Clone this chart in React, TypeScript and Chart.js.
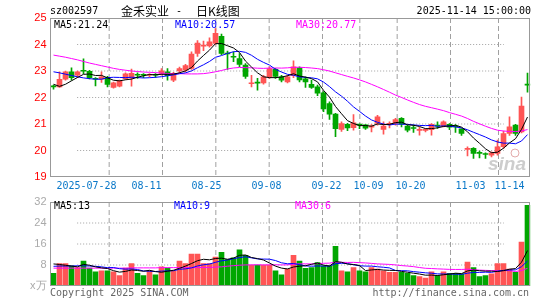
import React, { useEffect, useRef } from 'react';
import { Chart, registerables } from 'chart.js';

Chart.register(...registerables);

// ---------- data ----------
const dates = [
  '07-18', '07-21', '07-22', '07-23', '07-24', '07-25', '07-28', '07-29', '07-30', '07-31',
  '08-01', '08-04', '08-05', '08-06', '08-07', '08-08', '08-11', '08-12', '08-13', '08-14',
  '08-15', '08-18', '08-19', '08-20', '08-21', '08-22', '08-25', '08-26', '08-27', '08-28',
  '08-29', '09-01', '09-02', '09-03', '09-04', '09-05', '09-08', '09-09', '09-10', '09-11',
  '09-12', '09-15', '09-16', '09-17', '09-18', '09-19', '09-22', '09-23', '09-24', '09-25',
  '09-26', '09-29', '09-30', '10-09', '10-10', '10-13', '10-14', '10-15', '10-16', '10-17',
  '10-20', '10-21', '10-22', '10-23', '10-24', '10-27', '10-28', '10-29', '10-30', '10-31',
  '11-03', '11-04', '11-05', '11-06', '11-07', '11-10', '11-11', '11-12', '11-13', '11-14',
];

const opens = [
  22.41, 22.40, 22.69, 22.97, 22.84, 23.00, 22.99, 22.70, 22.69, 22.75,
  22.38, 22.43, 22.71, 22.74, 22.85, 22.85, 22.84, 22.85, 22.91, 22.97,
  22.65, 23.00, 23.03, 23.10, 23.66, 23.94, 23.95, 24.04, 24.31, 23.68,
  23.55, 23.47, 23.22, 22.52, 22.56, 22.55, 22.78, 23.06, 22.78, 22.59,
  22.82, 23.12, 22.70, 22.50, 22.40, 22.18, 21.77, 21.37, 20.80, 20.99,
  20.86, 20.97, 20.97, 20.88, 21.02, 20.80, 20.99, 21.02, 21.21, 20.92,
  20.84, 20.76, 20.76, 20.79, 20.93, 20.92, 20.99, 20.90, 20.82, 20.04,
  20.08, 19.90, 19.86, 19.82, 19.89, 20.14, 20.64, 20.96, 20.70, 22.48,
];

const closes = [
  22.40, 22.69, 22.97, 22.75, 22.97, 22.99, 22.75, 22.69, 22.78, 22.49,
  22.55, 22.63, 22.89, 22.91, 22.84, 22.84, 22.85, 22.84, 23.01, 22.82,
  22.90, 23.09, 23.20, 23.64, 24.05, 23.95, 24.10, 24.42, 23.66, 23.64,
  23.52, 23.25, 22.80, 22.54, 22.54, 22.78, 23.09, 22.80, 22.65, 22.78,
  23.16, 22.66, 22.59, 22.38, 22.16, 21.57, 21.37, 20.82, 21.02, 20.85,
  21.04, 20.96, 20.84, 20.90, 21.27, 20.92, 21.00, 21.17, 20.99, 20.77,
  20.83, 20.77, 20.77, 20.99, 20.92, 21.08, 20.88, 20.89, 20.64, 20.05,
  19.89, 19.89, 19.85, 19.91, 20.14, 20.64, 20.89, 20.64, 21.68, 22.47,
];

const highs = [
  22.47, 22.97, 23.00, 23.12, 23.00, 23.46, 23.03, 22.75, 22.97, 22.80,
  22.58, 22.66, 22.93, 23.07, 22.93, 22.90, 22.90, 22.90, 23.09, 23.09,
  22.95, 23.15, 23.25, 23.72, 24.15, 24.13, 24.25, 24.60, 24.39, 23.75,
  23.72, 23.66, 23.28, 22.84, 22.72, 22.84, 23.16, 23.10, 22.84, 22.84,
  23.38, 23.16, 22.78, 22.66, 22.47, 22.22, 21.84, 21.40, 21.08, 21.03,
  21.36, 21.00, 20.98, 20.98, 21.33, 21.08, 21.08, 21.21, 21.24, 20.96,
  20.96, 20.87, 20.83, 21.02, 21.08, 21.12, 21.02, 20.98, 20.82, 20.14,
  20.11, 19.98, 19.91, 19.95, 20.39, 20.73, 21.27, 20.99, 22.02, 22.92,
];

const lows = [
  22.31, 22.38, 22.65, 22.65, 22.75, 22.90, 22.70, 22.44, 22.57, 22.40,
  22.35, 22.40, 22.68, 22.43, 22.72, 22.75, 22.78, 22.76, 22.84, 22.65,
  22.60, 22.93, 22.97, 23.06, 23.55, 23.77, 23.90, 24.00, 23.62, 23.06,
  23.35, 23.16, 22.72, 22.40, 22.28, 22.50, 22.72, 22.72, 22.59, 22.55,
  22.75, 22.59, 22.38, 22.34, 22.07, 21.47, 21.17, 20.52, 20.72, 20.75,
  20.77, 20.82, 20.80, 20.70, 20.96, 20.62, 20.85, 20.96, 20.89, 20.70,
  20.68, 20.58, 20.70, 20.58, 20.83, 20.89, 20.79, 20.68, 20.57, 19.80,
  19.70, 19.72, 19.70, 19.76, 19.82, 20.08, 20.57, 20.57, 20.66, 22.20,
];

// volume, in 万 (10k) lots
const volumes = [
  4.8, 8.5, 8.5, 7.7, 7.0, 9.5, 6.8, 5.4, 5.8, 5.8,
  5.4, 4.0, 6.8, 8.5, 4.8, 4.0, 5.8, 4.3, 7.3, 6.8,
  5.8, 9.5, 8.5, 12.2, 12.2, 8.5, 8.5, 11.0, 12.8, 10.1,
  10.7, 13.8, 11.7, 8.0, 8.0, 8.0, 8.0, 5.8, 4.3, 6.4,
  11.7, 9.5, 6.7, 7.0, 8.9, 7.7, 7.7, 15.1, 5.8, 5.4,
  7.0, 5.8, 5.4, 7.0, 6.4, 5.8, 5.2, 5.2, 5.2, 4.8,
  4.0, 3.6, 3.0, 5.4, 4.0, 5.4, 4.8, 4.8, 4.6, 9.1,
  7.0, 3.6, 4.0, 4.6, 8.5, 8.5, 6.4, 5.2, 16.7, 30.7,
];

const ma5Head = [22.50, 22.42, 22.50, 22.63];
const ma10Head = [22.97, 22.93, 22.88, 22.83, 22.78, 22.74, 22.71, 22.69, 22.69];
const ma30Head = [
  23.60, 23.56, 23.52, 23.47, 23.42, 23.36, 23.30, 23.25, 23.20, 23.15,
  23.10, 23.06, 23.03, 23.00, 22.98, 22.96, 22.95, 22.94, 22.92, 22.91,
  22.90, 22.90, 22.89, 22.89, 22.89, 22.90, 22.93, 22.97, 23.02,
];
const vma5Head = [8.4, 8.2, 7.9, 7.6];
const vma10Head = [7.5, 7.6, 7.6, 7.6, 7.7, 7.7, 7.6, 7.5, 7.3];
const vma30Head = [
  6.8, 6.8, 6.8, 6.8, 6.8, 6.8, 6.8, 6.8, 6.8, 6.8,
  6.8, 6.8, 6.8, 6.9, 6.9, 6.9, 6.9, 6.9, 7.0, 7.0,
  7.0, 7.0, 7.0, 7.0, 7.0, 7.1, 7.1, 7.2, 7.3,
];

const tickDates = ['07-28', '08-11', '08-25', '09-08', '09-22', '10-09', '10-20', '11-03', '11-14'];
const tickLabels = ['2025-07-28', '08-11', '08-25', '09-08', '09-22', '10-09', '10-20', '11-03', '11-14'];

const priceMin = 19;
const priceMax = 25;
const priceStep = 1;
const priceGridValues = [20, 21, 22, 23, 24];
const volMin = 0;
const volMax = 32;
const volStep = 8;
const volGridValues = [8, 16, 24];
const volUnit = 'x万';

const stockCode = 'sz002597';
const titleParts = ['金禾实业', '-', '日K线图'];
const timestamp = '2025-11-14 15:00:00';
const priceLegend = ['MA5:21.24', 'MA10:20.57', 'MA30:20.77'];
const volumeLegend = ['MA5:13', 'MA10:9', 'MA30:6'];
const copyright = 'Copyright 2025 SINA.COM';
const siteUrl = 'http://finance.sina.com.cn';

// ---------- styles ----------
const UP = '#ff5555';
const DOWN = '#00a600';
const MA_COLORS = ['#000000', '#0000ff', '#ff00ff'];
const GRID = '#a0a0a0';
const FRAME = '#999999';
const DATE_COLOR = '#0a78c8';
const FONT_MONO = '"DejaVu Sans Mono", monospace';
const FONT_AXIS = '"Liberation Sans", Arial, sans-serif';
const FONT_CJK = '"Noto Sans CJK SC", sans-serif';

function movingAverage(values: number[], n: number, head: number[]) {
  return values.map((_, i) => {
    if (i < n - 1) return head[i];
    let s = 0;
    for (let k = i - n + 1; k <= i; k++) s += values[k];
    return s / n;
  });
}

const candleColors = closes.map((c, i) => (c > opens[i] ? UP : DOWN));

// grid lines as Chart.js line datasets on a hidden linear x axis aligned with the category slots
function gridDatasets(hValues: number[], min: number, max: number) {
  const n = dates.length;
  const hs = hValues.map((v) => ({
    type: 'line' as const,
    xAxisID: 'x2',
    data: [{ x: -0.5, y: v }, { x: n - 0.5, y: v }],
    borderColor: GRID,
    borderWidth: 1,
    borderDash: [1, 2],
    pointRadius: 0,
    fill: false,
    order: 10,
  }));
  const vs = tickDates.map((d) => {
    const idx = dates.indexOf(d);
    return {
      type: 'line' as const,
      xAxisID: 'x2',
      data: [{ x: idx - 0.5, y: max }, { x: idx - 0.5, y: min }],
      borderColor: GRID,
      borderWidth: 1,
      borderDash: [5, 3],
      pointRadius: 0,
      fill: false,
      order: 10,
    };
  });
  return [...hs, ...vs];
}

function gridLinePixel(chart: any, idx: number) {
  const x = chart.scales.x;
  const w = x.getPixelForValue(1) - x.getPixelForValue(0);
  return x.getPixelForValue(idx) - w / 2;
}

const framePlugin = {
  id: 'frame',
  afterDraw(chart: any) {
    const { ctx, chartArea: a } = chart;
    ctx.save();
    ctx.fillStyle = FRAME;
    const l = Math.floor(a.left);
    const r = Math.floor(a.right) - 1;
    const t = Math.floor(a.top);
    const b = Math.floor(a.bottom) - 1;
    ctx.fillRect(l, t, r - l + 1, 1);
    ctx.fillRect(l, b, r - l + 1, 1);
    ctx.fillRect(l, t, 1, b - t + 1);
    ctx.fillRect(r, t, 1, b - t + 1);
    ctx.restore();
  },
};

const mainTextPlugin = {
  id: 'mainTexts',
  afterDraw(chart: any) {
    const ctx = chart.ctx;
    ctx.save();
    ctx.textBaseline = 'middle';
    ctx.fillStyle = '#000';
    ctx.font = `10px ${FONT_MONO}`;
    ctx.textAlign = 'left';
    ctx.fillText(stockCode, 50, 11);
    ctx.font = `12px ${FONT_CJK}`;
    ctx.fillText(titleParts[0], 121, 11);
    ctx.font = `10px ${FONT_MONO}`;
    ctx.fillText(titleParts[1], 176, 11);
    ctx.font = `12px ${FONT_CJK}`;
    ctx.fillText(titleParts[2], 196, 11);
    ctx.font = `10px ${FONT_MONO}`;
    ctx.textAlign = 'right';
    ctx.fillText(timestamp, 531, 11);

    ctx.textAlign = 'left';
    const lx = [54, 175, 296];
    priceLegend.forEach((t, i) => {
      ctx.fillStyle = MA_COLORS[i];
      ctx.fillText(t, lx[i], 25);
    });

    ctx.fillStyle = DATE_COLOR;
    tickDates.forEach((d, k) => {
      const px = Math.floor(gridLinePixel(chart, dates.indexOf(d))) + 0.5;
      ctx.textAlign = k === tickDates.length - 1 ? 'right' : 'center';
      ctx.fillText(tickLabels[k], px, 186);
    });

    ctx.fillStyle = 'rgba(200,200,200,0.9)';
    ctx.font = `italic bold 19px ${FONT_AXIS}`;
    ctx.textAlign = 'left';
    ctx.fillText('sina', 488, 165);
    ctx.strokeStyle = 'rgba(220,150,150,0.8)';
    ctx.lineWidth = 1;
    ctx.beginPath();
    ctx.arc(515, 153, 4, 0, Math.PI * 2);
    ctx.stroke();
    ctx.restore();
  },
};

const volTextPlugin = {
  id: 'volTexts',
  afterDraw(chart: any) {
    const ctx = chart.ctx;
    ctx.save();
    ctx.textBaseline = 'middle';
    ctx.font = `10px ${FONT_MONO}`;
    ctx.textAlign = 'left';
    const lx = [54, 174, 295];
    volumeLegend.forEach((t, i) => {
      ctx.fillStyle = MA_COLORS[i];
      ctx.fillText(t, lx[i], 10.5);
    });
    ctx.fillStyle = '#666';
    ctx.fillText(copyright, 50, 97);
    ctx.textAlign = 'right';
    ctx.fillText(siteUrl, 529, 97);
    ctx.restore();
  },
};

function xScale(height: number) {
  return {
    offset: true,
    grid: { display: false, offset: true, drawTicks: false },
    border: { display: false },
    ticks: { display: false, autoSkip: false },
    afterFit: (s: any) => {
      s.height = height;
      s.paddingLeft = 0;
      s.paddingRight = 0;
    },
  };
}

const x2Scale = {
  type: 'linear',
  min: -0.5,
  max: dates.length - 0.5,
  display: false,
};

function yScale(min: number, max: number, step: number, color: string, cb?: (v: number) => string) {
  return {
    min,
    max,
    ticks: {
      stepSize: step,
      color,
      padding: 4,
      font: { family: FONT_AXIS, size: 11 },
      callback: cb ? (v: any) => cb(Number(v)) : (v: any) => String(v),
    },
    grid: { display: false, drawTicks: false },
    border: { display: false },
    afterFit: (s: any) => {
      s.width = 50.5;
      s.paddingTop = 0;
      s.paddingBottom = 0;
    },
  };
}

function lineDs(data: number[], color: string) {
  return {
    type: 'line' as const,
    data,
    borderColor: color,
    borderWidth: 1,
    pointRadius: 0,
    tension: 0,
    fill: false,
    order: 0,
  };
}

export default function App() {
  const mainRef = useRef<HTMLCanvasElement>(null);
  const volRef = useRef<HTMLCanvasElement>(null);

  useEffect(() => {
    const ma5 = movingAverage(closes, 5, ma5Head);
    const ma10 = movingAverage(closes, 10, ma10Head);
    const ma30 = movingAverage(closes, 30, ma30Head);
    const vma5 = movingAverage(volumes, 5, vma5Head);
    const vma10 = movingAverage(volumes, 10, vma10Head);
    const vma30 = movingAverage(volumes, 30, vma30Head);

    const main = new Chart(mainRef.current as HTMLCanvasElement, {
      type: 'bar',
      data: {
        labels: dates,
        datasets: [
          lineDs(ma5, MA_COLORS[0]),
          lineDs(ma10, MA_COLORS[1]),
          lineDs(ma30, MA_COLORS[2]),
          {
            type: 'bar',
            data: opens.map((o, i) => [o, closes[i]]),
            backgroundColor: candleColors,
            barThickness: 5,
            minBarLength: 1,
            grouped: false,
            borderWidth: 0,
            order: 1,
          } as any,
          {
            type: 'bar',
            data: lows.map((l, i) => [l, highs[i]]),
            backgroundColor: candleColors,
            barThickness: 1,
            grouped: false,
            borderWidth: 0,
            order: 2,
          } as any,
          ...(gridDatasets(priceGridValues, priceMin, priceMax) as any[]),
        ],
      },
      options: {
        responsive: false,
        animation: false,
        events: [],
        layout: { padding: { top: 18, right: 14.5, left: 0, bottom: 0 } },
        plugins: { legend: { display: false }, tooltip: { enabled: false } },
        scales: {
          x: xScale(19) as any,
          x2: x2Scale as any,
          y: yScale(priceMin, priceMax, priceStep, '#ff0000') as any,
        },
      },
      plugins: [framePlugin, mainTextPlugin],
    });

    const vol = new Chart(volRef.current as HTMLCanvasElement, {
      type: 'bar',
      data: {
        labels: dates,
        datasets: [
          lineDs(vma5, MA_COLORS[0]),
          lineDs(vma10, MA_COLORS[1]),
          lineDs(vma30, MA_COLORS[2]),
          {
            type: 'bar',
            data: volumes,
            backgroundColor: candleColors,
            barThickness: 5,
            grouped: false,
            borderWidth: 0,
            order: 1,
          } as any,
          ...(gridDatasets(volGridValues, volMin, volMax) as any[]),
        ],
      },
      options: {
        responsive: false,
        animation: false,
        events: [],
        layout: { padding: { top: 6, right: 14.5, left: 0, bottom: 0 } },
        plugins: { legend: { display: false }, tooltip: { enabled: false } },
        scales: {
          x: xScale(14) as any,
          x2: x2Scale as any,
          y: yScale(volMin, volMax, volStep, '#aaaaaa', (v) => (v === 0 ? volUnit : String(v))) as any,
        },
      },
      plugins: [framePlugin, volTextPlugin],
    });

    return () => {
      main.destroy();
      vol.destroy();
    };
  }, []);

  return (
    <div style={{ position: 'absolute', left: 0, top: 0, width: 545, height: 300, background: '#fff' }}>
      <canvas
        ref={mainRef}
        width={545}
        height={196}
        style={{ position: 'absolute', left: 0, top: 0, width: 545, height: 196 }}
      />
      <canvas
        ref={volRef}
        width={545}
        height={104}
        style={{ position: 'absolute', left: 0, top: 196, width: 545, height: 104 }}
      />
    </div>
  );
}
